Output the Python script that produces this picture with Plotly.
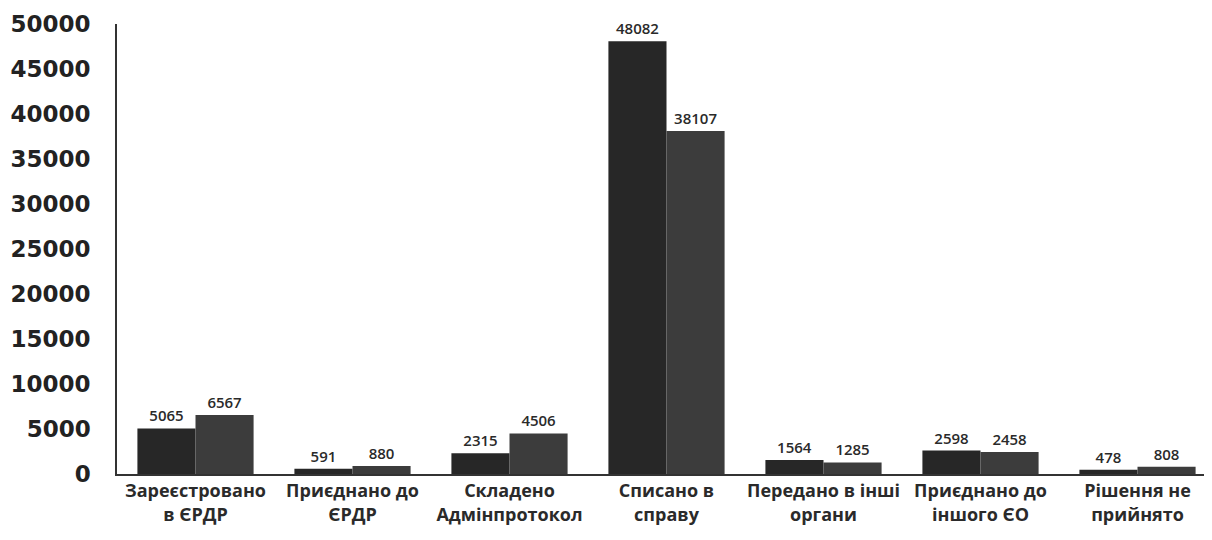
import plotly.graph_objects as go

categories = ["Зареєстровано<br>в ЄРДР", "Приєднано до<br>ЄРДР", "Складено<br>Адмінпротокол",
              "Списано в<br>справу", "Передано в інші<br>органи", "Приєднано до<br>іншого ЄО",
              "Рішення не<br>прийнято"]
series_a = [5065, 591, 2315, 48082, 1564, 2598, 478]
series_b = [6567, 880, 4506, 38107, 1285, 2458, 808]
y_ticks = [0, 5000, 10000, 15000, 20000, 25000, 30000, 35000, 40000, 45000, 50000]

fig = go.Figure()
for vals, color in [(series_a, "#272727"), (series_b, "#3c3c3c")]:
    fig.add_trace(go.Bar(
        x=categories, y=vals, marker=dict(color=color, line=dict(width=0)),
        text=[str(v) for v in vals], textposition="outside", cliponaxis=False,
        textfont=dict(family="Open Sans", size=15, color="#2a2a2a", weight=600),
    ))

fig.update_layout(
    width=1212, height=540, barmode="group", bargap=0.26, bargroupgap=0,
    showlegend=False, plot_bgcolor="white", paper_bgcolor="white",
    margin=dict(l=109, r=4, t=16, b=74, autoexpand=False),
    font=dict(family="Open Sans", color="#222"),
)
fig.update_yaxes(range=[0, 50000], tickvals=y_ticks, showgrid=False, zeroline=False,
                 showline=True, linecolor="#333", linewidth=1.5, ticks="",
                 tickfont=dict(family="DejaVu Sans", size=23, color="#222", weight="bold"),
                 ticklabelstandoff=20, tickformat="d", automargin=False)
fig.update_xaxes(showline=True, linecolor="#333", linewidth=1.5, ticks="",
                 tickfont=dict(family="Open Sans", size=18, color="#2a2a2a", weight="bold"),
                 automargin=False)
fig.write_html("out.html")
